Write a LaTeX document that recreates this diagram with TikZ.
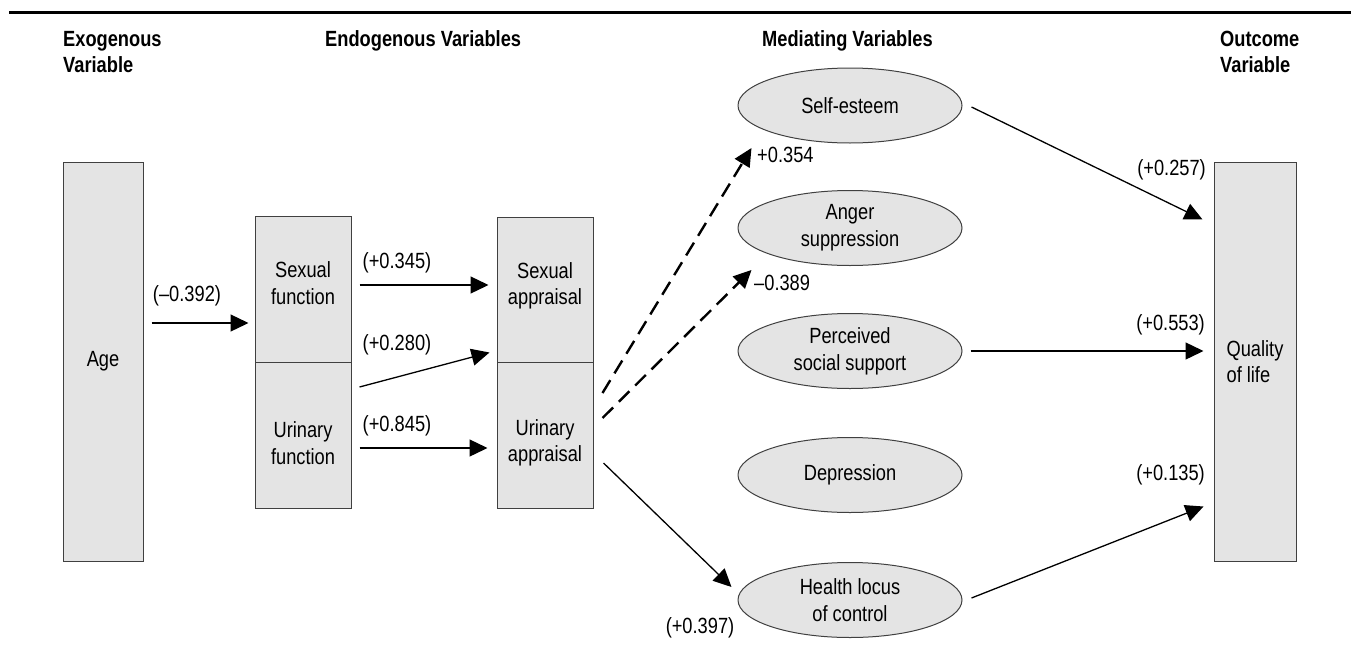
\documentclass[tikz,border=0pt]{standalone}
\usepackage{fontspec}
\setmainfont[FakeStretch=0.83]{Liberation Sans}
\usepackage{xcolor}
\usetikzlibrary{arrows.meta,shapes.geometric}
\definecolor{boxgray}{HTML}{E4E4E4}

\begin{document}
\begin{tikzpicture}[
    x=1pt, y=-1pt,
    font=\fontsize{22}{26.7}\selectfont,
    box/.style={rectangle, draw=black!75, line width=1pt, fill=boxgray, minimum width=96pt, minimum height=146pt, inner sep=0pt, align=center},
    oval/.style={ellipse, draw=black!75, line width=1pt, fill=boxgray, minimum width=224pt, minimum height=75pt, inner sep=0pt, align=center},
    head/.style={font={\fontsize{22}{26.7}\selectfont\bfseries}, align=left, anchor=west, inner sep=0pt},
    coef/.style={inner sep=0pt},
    arrow/.style={-{Triangle[length=18pt,width=17pt]}, line width=1.3pt},
    dasharrow/.style={arrow, line width=2.4pt, dash pattern=on 15pt off 8pt}
]
    \useasboundingbox (0,0) rectangle (1351,648);
    \draw[line width=3pt] (9,12) -- (1351,12);

    % Headings
    \node[head] (hexo) at (63,52) {Exogenous\\Variable};
    \node[head] (hendo) at (325,41) {Endogenous Variables};
    \node[head] (hmed) at (762,41) {Mediating Variables};
    \node[head] (hout) at (1220,52) {Outcome\\Variable};

    % Exogenous and endogenous boxes
    \node[box, minimum width=80pt, minimum height=399pt] (age) at (103,361.5) {Age};
    \node[box] (sexfun) at (303,289) {Sexual\\function\\[-14.7pt]};
    \node[box] (urifun) at (303,435) {\\[5pt]Urinary\\function};
    \node[box, minimum height=145pt] (sexapp) at (545,289.5) {Sexual\\appraisal\\[-14.7pt]};
    \node[box] (uriapp) at (545,435) {\\[5pt]Urinary\\appraisal};

    % Mediating variables
    \node[oval] (selfest) at (850,105.5) {Self-esteem};
    \node[oval] (anger) at (850,228) {Anger\\suppression};
    \node[oval] (percv) at (850,351) {Perceived\\social support};
    \node[oval] (depr) at (850,475) {Depression};
    \node[oval] (health) at (850,600) {Health locus\\of control};

    % Outcome
    \node[box, minimum width=82pt, minimum height=399pt, align=left] (qol) at (1255,361.5) {Quality\\of life};

    % Path coefficients
    \node[coef] (c392) at (187,296) {(–0.392)};
    \node[coef] (c345) at (397,263) {(+0.345)};
    \node[coef] (c280) at (397,345) {(+0.280)};
    \node[coef] (c845) at (397,426) {(+0.845)};
    \node[coef, anchor=west] (c354) at (757,155) {+0.354};
    \node[coef, anchor=west] (c389) at (754,283) {–0.389};
    \node[coef] (c397) at (700,628) {(+0.397)};
    \node[coef, anchor=east] (c257) at (1206,170) {(+0.257)};
    \node[coef, anchor=east] (c553) at (1205,325) {(+0.553)};
    \node[coef, anchor=east] (c135) at (1205,475) {(+0.135)};

    % Arrows
    \draw[arrow] ([xshift=8pt,yshift=38.5pt]age.east) -- ([xshift=-6pt,yshift=-34pt]sexfun.west);
    \draw[arrow] ([xshift=8pt,yshift=4pt]sexfun.east) -- ([xshift=-8pt,yshift=4.5pt]sexapp.west);
    \draw[arrow] ([xshift=8pt,yshift=48pt]urifun.east) -- ([xshift=-7pt,yshift=10pt]sexapp.south west);
    \draw[arrow] ([xshift=8pt,yshift=-13pt]urifun.east) -- ([xshift=-9pt,yshift=-13pt]uriapp.west);
    \draw[dasharrow] ([xshift=9pt,yshift=42pt]uriapp.east) -- ([xshift=14pt,yshift=-42.5pt]selfest.west);
    \draw[dasharrow] ([xshift=9pt,yshift=17pt]uriapp.east) -- ([xshift=14pt,yshift=-42pt]anger.west);
    \draw[arrow] ([xshift=10pt,yshift=-28pt]uriapp.east) -- ([xshift=-6pt,yshift=13pt]health.west);
    \draw[arrow] ([xshift=9pt,yshift=-1.5pt]selfest.east) -- ([xshift=-11pt,yshift=-58pt]qol.north west);
    \draw[arrow] ([xshift=8pt]percv.east) -- ([xshift=-10pt,yshift=10.5pt]qol.west);
    \draw[arrow] ([xshift=9pt,yshift=2pt]health.east) -- ([xshift=-10pt,yshift=55pt]qol.south west);
\end{tikzpicture}
\end{document}
